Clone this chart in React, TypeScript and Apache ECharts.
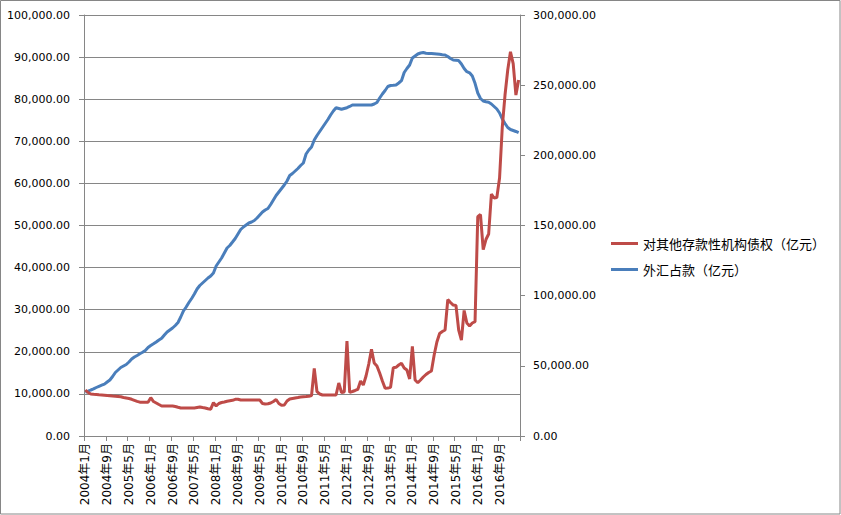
import React, { useEffect, useRef } from "react";
import * as echarts from "echarts";

// Category labels: monthly from 2004年1月 to 2017年4月
const startYear = 2004;
const monthCount = 160;
const categories: string[] = [];
for (let k = 0; k < monthCount; k++) {
  const y = startYear + Math.floor(k / 12);
  const m = (k % 12) + 1;
  categories.push(`${y}年${m}月`);
}

const redName = "对其他存款性机构债权（亿元）";
const blueName = "外汇占款（亿元）";

// 对其他存款性机构债权（亿元） — left axis
const redValues: number[] = [
  10930, 10330, 9980, 9900, 9860, 9790, 9740, 9690, 9620, 9570, 9500, 9450,
  9380, 9310, 9140, 9030, 8910, 8720, 8480, 8240, 8030, 8000, 8000, 8000,
  9100, 8190, 7840, 7480, 7130, 7130, 7130, 7130, 7130, 7010, 6820, 6650,
  6650, 6650, 6650, 6650, 6650, 6770, 6890, 6750, 6650, 6460, 6370, 7910,
  7130, 7720, 7960, 8080, 8240, 8360, 8480, 8720, 8720, 8550, 8550, 8550,
  8550, 8550, 8550, 8550, 8550, 7720, 7600, 7650, 7840, 8190, 8670, 7720,
  7290, 7360, 8310, 8790, 8910, 9030, 9140, 9260, 9330, 9380, 9450, 9620,
  16080, 10520, 9980, 9740, 9740, 9740, 9740, 9740, 9740, 12590, 10330, 10450,
  22560, 10380, 10570, 10810, 11090, 13060, 12110, 14250, 17100, 20590, 17340, 16630,
  14960, 13060, 11330, 11400, 11570, 16220, 16320, 16860, 17270, 16150, 15680, 13540,
  21260, 13300, 12660, 13300, 14010, 14610, 15080, 15440, 19240, 22330, 24340, 24820,
  25180, 32420, 31710, 31110, 30990, 25180, 22800, 29810, 26840, 26130, 26840, 27150,
  52080, 52610, 44290, 46670, 47980, 57480, 56530, 56640, 61280, 73390, 80990, 86930,
  91270, 88470, 80990, 84550,
];

// 外汇占款（亿元） — right axis
const blueValues: number[] = [
  31140, 31920, 32780, 33560, 34560, 35420, 36200, 36980, 38480, 39910, 42400, 45250,
  47030, 48810, 49880, 50950, 52730, 54870, 56300, 57360, 58580, 59650, 60930, 63070,
  64490, 65700, 66980, 68410, 69620, 71970, 74110, 75540, 76960, 78740, 80880, 84800,
  89080, 91930, 95130, 97980, 101190, 104750, 107250, 109030, 110810, 112590, 114020, 116150,
  121140, 123990, 126840, 130410, 133970, 135750, 138240, 140740, 143950, 147150, 148930, 150360,
  151780, 152500, 153570, 155350, 157490, 159620, 161050, 162120, 164970, 168170, 171380, 173870,
  176370, 178860, 181710, 185630, 187060, 188840, 190620, 192760, 194540, 200950, 203800, 205940,
  210930, 214140, 216990, 219840, 222690, 225540, 228740, 231600, 233950, 233380, 232800, 233380,
  233950, 234800, 235870, 235870, 235870, 235870, 235870, 235870, 235870, 235870, 236580, 237650,
  240860, 243710, 246200, 249050, 249770, 249910, 250120, 251550, 253190, 259030, 261880, 264370,
  269360, 270790, 272210, 272930, 273280, 272780, 272640, 272500, 272360, 272210, 272000, 271710,
  271500, 270430, 269000, 267940, 267720, 267500, 265090, 261880, 259600, 258820, 256540, 251330,
  244420, 240500, 238720, 238150, 237790, 236580, 234800, 233020, 230170, 225890, 222690, 219840,
  218410, 217700, 216990, 216130,
];

const leftMax = 100000;
const leftStep = 10000;
const rightMax = 300000;
const rightStep = 50000;

const RED = "#BE4B48";
const BLUE = "#4A7EBB";
const GRID = "#868686";

const fmt = (v: number) =>
  v.toLocaleString("en-US", { minimumFractionDigits: 2, maximumFractionDigits: 2 });

export default function App() {
  const ref = useRef<HTMLDivElement>(null);
  useEffect(() => {
    if (!ref.current) return;
    const chart = echarts.init(ref.current, undefined, { renderer: "svg" });
    const numFont = "DejaVu Sans, Verdana, sans-serif";
    chart.setOption({
      animation: false,
      backgroundColor: "#ffffff",
      graphic: [
        {
          type: "rect",
          silent: true,
          z: -10,
          shape: { x: 0.5, y: 0.5, width: 839.5, height: 513.5 },
          style: { fill: "rgba(0,0,0,0)", stroke: GRID, lineWidth: 1 },
        },
      ],
      grid: { left: 84, top: 15, width: 436, height: 421, containLabel: false },
      legend: {
        orient: "vertical",
        left: 606,
        top: 232,
        itemWidth: 27,
        itemHeight: 3,
        itemGap: 13,
        icon: "rect",
        data: [
          { name: redName, itemStyle: { color: RED } },
          { name: blueName, itemStyle: { color: BLUE } },
        ],
        textStyle: { fontFamily: "Noto Sans CJK SC", fontSize: 13, color: "#000" },
      },
      xAxis: {
        type: "category",
        data: categories,
        boundaryGap: true,
        axisLine: { show: true, lineStyle: { color: GRID, width: 1 } },
        axisTick: { show: true, interval: 7, length: 5, lineStyle: { color: GRID } },
        axisLabel: {
          interval: 7,
          rotate: 90,
          margin: 7,
          color: "#000",
          fontSize: 12,
          fontFamily: "DejaVu Sans, Noto Sans CJK SC, sans-serif",
        },
        splitLine: { show: false },
      },
      yAxis: [
        {
          type: "value",
          min: 0,
          max: leftMax,
          interval: leftStep,
          position: "left",
          axisLine: { show: true, lineStyle: { color: GRID } },
          axisTick: { show: true, length: 5, lineStyle: { color: GRID } },
          axisLabel: { margin: 14, color: "#000", fontSize: 11, fontFamily: numFont, formatter: fmt },
          splitLine: { show: true, lineStyle: { color: GRID, width: 1 } },
        },
        {
          type: "value",
          min: 0,
          max: rightMax,
          interval: rightStep,
          position: "right",
          axisLine: { show: true, lineStyle: { color: GRID } },
          axisTick: { show: true, length: 5, lineStyle: { color: GRID } },
          axisLabel: { margin: 13, color: "#000", fontSize: 11, fontFamily: numFont, formatter: fmt },
          splitLine: { show: false },
        },
      ],
      series: [
        {
          name: blueName,
          type: "line",
          yAxisIndex: 1,
          data: blueValues,
          symbol: "none",
          lineStyle: { color: BLUE, width: 3 },
          itemStyle: { color: BLUE },
          z: 2,
        },
        {
          name: redName,
          type: "line",
          yAxisIndex: 0,
          data: redValues,
          symbol: "none",
          lineStyle: { color: RED, width: 3 },
          itemStyle: { color: RED },
          z: 3,
        },
      ],
    });
    return () => chart.dispose();
  }, []);
  return (
    <div
      ref={ref}
      style={{ position: "absolute", left: 0, top: 0, width: 841, height: 515 }}
    />
  );
}
